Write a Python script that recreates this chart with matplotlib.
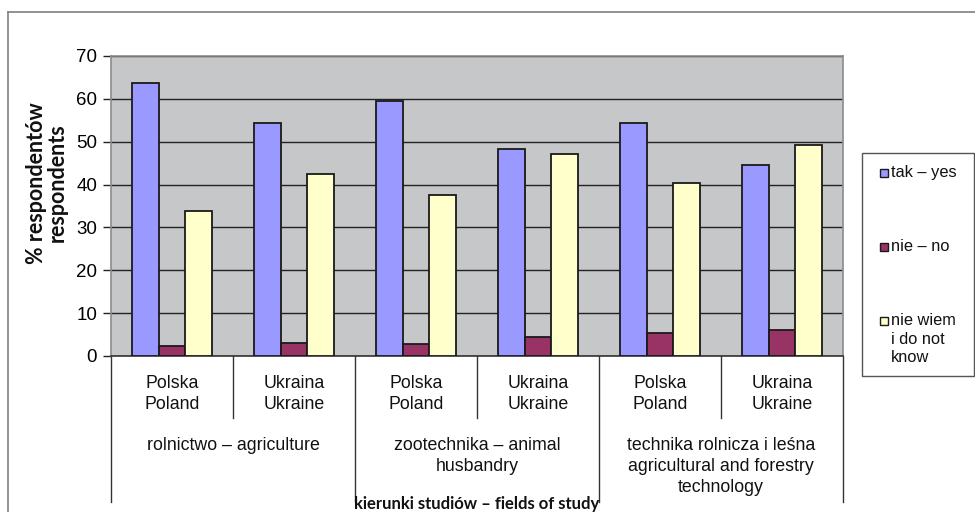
import matplotlib.pyplot as plt
from matplotlib.patches import Rectangle
from matplotlib.lines import Line2D

# dane: odsetek respondentów wg kierunku studiów i kraju
kraje = ['Polska\nPoland', 'Ukraina\nUkraine'] * 3
kierunki = ['rolnictwo – agriculture',
            'zootechnika – animal\nhusbandry',
            'technika rolnicza i leśna\nagricultural and forestry\ntechnology']
serie = ['tak – yes', 'nie – no', 'nie wiem\ni do not\nknow']
tak = [63.8, 54.3, 59.6, 48.2, 54.3, 44.6]
nie = [2.4, 3.1, 2.7, 4.4, 5.4, 6.1]
nie_wiem = [33.8, 42.5, 37.6, 47.2, 40.4, 49.3]
kolory = ['#9999ff', '#993366', '#ffffcc']

W, H = 975, 512
plt.rcParams['font.family'] = ['Liberation Sans', 'DejaVu Sans']


def fx(x):
    return x / W


def fy(y):
    return 1 - y / H


fig = plt.figure(figsize=(W / 100, H / 100), dpi=100)
ax = fig.add_axes([fx(111), fy(356), fx(732), 300 / H])
ax.set_facecolor('#c6c7c9')

szer = 0.22
pozycje = range(len(kraje))
for k, (wart, kol) in enumerate(zip([tak, nie, nie_wiem], kolory)):
    ax.bar([p + (k - 1) * szer for p in pozycje], wart, width=szer,
           color=kol, edgecolor='#1a1a1a', linewidth=1.3, zorder=3)

ax.set_xlim(-0.5, len(kraje) - 0.5)
ax.set_ylim(0, 70)
ax.set_yticks(range(0, 71, 10))
ax.yaxis.grid(True, color='#222222', linewidth=1.0, zorder=1)
ax.set_axisbelow(True)
ax.tick_params(axis='y', labelsize=13.5, length=6, width=1, color='#222222', pad=4)
ax.tick_params(axis='x', bottom=False, labelbottom=False)
for s in ax.spines.values():
    s.set_color('#8c8c8c')
    s.set_linewidth(1.2)
ax.spines['bottom'].set_color('#333333')

# oś kategorii dwupoziomowa
tr = ax.get_xaxis_transform()
krotka = (356 - 418) / 300
dluga = (356 - 502) / 300
for i in range(len(kraje) + 1):
    x = i - 0.5
    dol = dluga if i % 2 == 0 else krotka
    ax.plot([x, x], [0, dol], transform=tr, color='#333333', lw=1.0, clip_on=False)
for i, lab in enumerate(kraje):
    ax.text(i, (356 - 394) / 300, lab, transform=tr, ha='center', va='center',
            fontsize=12.8, linespacing=1.3, color='#111111')
for g, lab in enumerate(kierunki):
    ax.text(2 * g + 0.5, (356 - 437) / 300, lab, transform=tr, ha='center', va='top',
            fontsize=12.8, linespacing=1.3, color='#111111')

fig.text(fx(47), fy(183), '% respondentów\nrespondents', rotation=90,
         ha='center', va='center', fontsize=15.5, fontweight='bold',
         family=['Lato', 'DejaVu Sans'], linespacing=0.95, color='#111111')
fig.text(fx(477), fy(504), 'kierunki studiów – fields of study', ha='center', va='center',
         fontsize=12, fontweight='bold', family=['Lato', 'DejaVu Sans'], color='#111111')

# ramka wykresu
fig.add_artist(Line2D([fx(8), 1], [fy(12), fy(12)], color='#808080', lw=1.2))
fig.add_artist(Line2D([fx(8), fx(8)], [fy(12), 0], color='#808080', lw=1.2))

# legenda
fig.add_artist(Rectangle((fx(862), fy(376)), fx(112), (376 - 153) / H,
                         facecolor='white', edgecolor='#555555', lw=1.0))
for lab, kol, yc in zip(serie, kolory, [173, 247, 321]):
    fig.add_artist(Rectangle((fx(880), fy(yc + 4)), fx(8), 8 / H,
                             facecolor=kol, edgecolor='#1a1a1a', lw=1.0))
    fig.text(fx(891), fy(yc - 8), lab, ha='left', va='top', fontsize=11.8,
             linespacing=1.3, color='#111111')

fig.savefig('out.png', dpi=100)
